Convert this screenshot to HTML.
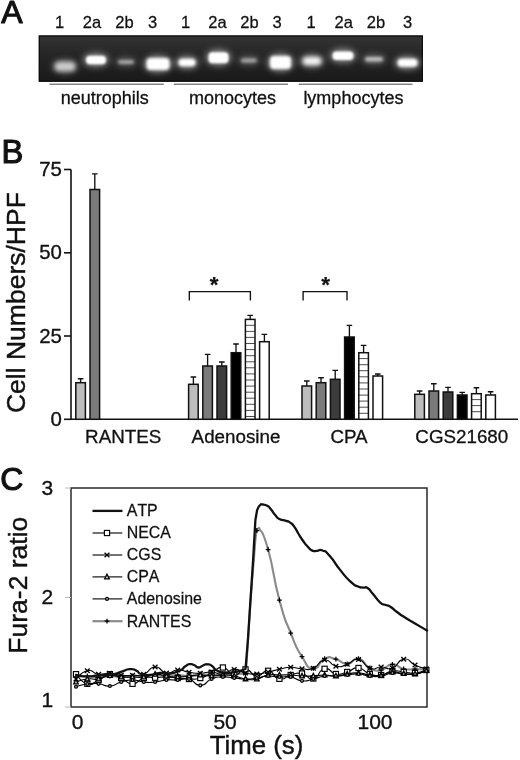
<!DOCTYPE html>
<html><head><meta charset="utf-8"><title>Figure</title>
<style>
html,body{margin:0;padding:0;background:#fff;}
body{width:520px;height:760px;overflow:hidden;font-family:"Liberation Sans",sans-serif;}
svg{display:block;filter:grayscale(1) blur(0.3px);}
svg text{font-family:"Liberation Sans",sans-serif;fill:#111;stroke:#111;stroke-width:0.016em;}
</style></head><body>
<svg width="520" height="760" viewBox="0 0 520 760">
<defs>
<linearGradient id="gelbg" x1="0" y1="0" x2="0" y2="1"><stop offset="0" stop-color="#343434"/><stop offset="0.4" stop-color="#262626"/><stop offset="1" stop-color="#191919"/></linearGradient>
<clipPath id="gelclip"><rect x="38.8" y="35.5" width="384.1" height="46.2"/></clipPath>
<pattern id="stripe" width="10" height="5" patternUnits="userSpaceOnUse"><rect width="10" height="5" fill="#fff"/><rect y="0" width="10" height="1" fill="#222"/></pattern>
<filter id="b12" x="-30%" y="-100%" width="160%" height="300%"><feGaussianBlur stdDeviation="1.2"/></filter>
<filter id="b13" x="-30%" y="-100%" width="160%" height="300%"><feGaussianBlur stdDeviation="1.3"/></filter>
<filter id="b15" x="-30%" y="-100%" width="160%" height="300%"><feGaussianBlur stdDeviation="1.5"/></filter>
<filter id="b18" x="-30%" y="-100%" width="160%" height="300%"><feGaussianBlur stdDeviation="1.8"/></filter>
<filter id="b22" x="-30%" y="-100%" width="160%" height="300%"><feGaussianBlur stdDeviation="2.2"/></filter>
<filter id="b3" x="-50%" y="-100%" width="200%" height="300%"><feGaussianBlur stdDeviation="3"/></filter>
</defs>
<rect width="520" height="760" fill="#fff"/>
<text x="1.2" y="23.3" font-size="32" style="stroke-width:1.1px;stroke-linejoin:round">A</text>
<rect x="38.8" y="35.5" width="384.09999999999997" height="46.2" fill="url(#gelbg)"/>
<rect x="39.3" y="36.0" width="383.09999999999997" height="45.2" fill="none" stroke="#0c0c0c" stroke-width="1.2"/>
<g clip-path="url(#gelclip)">
<ellipse cx="65" cy="66.5" rx="13.0" ry="7.5" fill="#fff" opacity="0.31" filter="url(#b3)"/>
<rect x="55.0" y="62.0" width="20" height="9" rx="4" fill="#fff" opacity="0.68" filter="url(#b22)"/>
<ellipse cx="96" cy="60" rx="13.0" ry="7.25" fill="#fff" opacity="0.45" filter="url(#b3)"/>
<rect x="86.0" y="55.75" width="20" height="8.5" rx="4" fill="#fff" opacity="1.00" filter="url(#b13)"/>
<ellipse cx="126" cy="62" rx="11.0" ry="5.0" fill="#fff" opacity="0.23" filter="url(#b3)"/>
<rect x="118.0" y="60.0" width="16" height="4" rx="2.0" fill="#fff" opacity="0.50" filter="url(#b15)"/>
<ellipse cx="158" cy="64" rx="14.5" ry="9.0" fill="#fff" opacity="0.45" filter="url(#b3)"/>
<rect x="146.5" y="58.0" width="23" height="12" rx="4" fill="#fff" opacity="1.00" filter="url(#b15)"/>
<ellipse cx="187" cy="62.5" rx="11.5" ry="6.75" fill="#fff" opacity="0.45" filter="url(#b3)"/>
<rect x="178.5" y="58.75" width="17" height="7.5" rx="3.75" fill="#fff" opacity="1.00" filter="url(#b15)"/>
<ellipse cx="218.5" cy="57.8" rx="13.0" ry="8.5" fill="#fff" opacity="0.45" filter="url(#b3)"/>
<rect x="208.5" y="52.3" width="20" height="11" rx="4" fill="#fff" opacity="1.00" filter="url(#b13)"/>
<ellipse cx="248.8" cy="60.5" rx="11.0" ry="5.0" fill="#fff" opacity="0.23" filter="url(#b3)"/>
<rect x="240.8" y="58.5" width="16" height="4" rx="2.0" fill="#fff" opacity="0.50" filter="url(#b15)"/>
<ellipse cx="280.5" cy="62.5" rx="13.5" ry="9.5" fill="#fff" opacity="0.45" filter="url(#b3)"/>
<rect x="270.0" y="56.0" width="21" height="13" rx="4" fill="#fff" opacity="1.00" filter="url(#b15)"/>
<ellipse cx="312" cy="61" rx="12.0" ry="6.75" fill="#fff" opacity="0.43" filter="url(#b3)"/>
<rect x="303.0" y="57.25" width="18" height="7.5" rx="3.75" fill="#fff" opacity="0.95" filter="url(#b22)"/>
<ellipse cx="343" cy="55.8" rx="13.5" ry="7.25" fill="#fff" opacity="0.45" filter="url(#b3)"/>
<rect x="332.5" y="51.55" width="21" height="8.5" rx="4" fill="#fff" opacity="1.00" filter="url(#b13)"/>
<ellipse cx="374" cy="59.3" rx="12.0" ry="5.25" fill="#fff" opacity="0.28" filter="url(#b3)"/>
<rect x="365.0" y="57.05" width="18" height="4.5" rx="2.25" fill="#fff" opacity="0.62" filter="url(#b15)"/>
<ellipse cx="407.5" cy="62.8" rx="13.0" ry="7.0" fill="#fff" opacity="0.45" filter="url(#b3)"/>
<rect x="397.5" y="58.8" width="20" height="8" rx="4.0" fill="#fff" opacity="1.00" filter="url(#b18)"/>
</g>
<text x="59.5" y="27.8" font-size="16.5" text-anchor="middle">1</text>
<text x="92" y="27.8" font-size="16.5" text-anchor="middle">2a</text>
<text x="124.5" y="27.8" font-size="16.5" text-anchor="middle">2b</text>
<text x="152.5" y="27.8" font-size="16.5" text-anchor="middle">3</text>
<text x="185.5" y="27.8" font-size="16.5" text-anchor="middle">1</text>
<text x="217.5" y="27.8" font-size="16.5" text-anchor="middle">2a</text>
<text x="249.5" y="27.8" font-size="16.5" text-anchor="middle">2b</text>
<text x="277" y="27.8" font-size="16.5" text-anchor="middle">3</text>
<text x="311" y="27.8" font-size="16.5" text-anchor="middle">1</text>
<text x="343.7" y="27.8" font-size="16.5" text-anchor="middle">2a</text>
<text x="376" y="27.8" font-size="16.5" text-anchor="middle">2b</text>
<text x="407.5" y="27.8" font-size="16.5" text-anchor="middle">3</text>
<line x1="49.5" y1="84.2" x2="163.8" y2="84.2" stroke="#333" stroke-width="0.9"/>
<line x1="173.8" y1="84.2" x2="288" y2="84.2" stroke="#333" stroke-width="0.9"/>
<line x1="298.8" y1="84.2" x2="412.5" y2="84.2" stroke="#333" stroke-width="0.9"/>
<text x="104.75" y="104.3" font-size="18" text-anchor="middle">neutrophils</text>
<text x="232.5" y="104.3" font-size="18" text-anchor="middle">monocytes</text>
<text x="353.4" y="104.3" font-size="18" text-anchor="middle">lymphocytes</text>
<text x="1.6" y="163.1" font-size="32.6" style="stroke-width:1.1px;stroke-linejoin:round">B</text>
<path d="M71 169.5 V419.3 H518" fill="none" stroke="#111" stroke-width="1.6"/>
<line x1="64" y1="419.3" x2="71" y2="419.3" stroke="#111" stroke-width="1.6"/>
<text x="61.9" y="425.9" font-size="20.4" text-anchor="end">0</text>
<line x1="64" y1="336.0" x2="71" y2="336.0" stroke="#111" stroke-width="1.6"/>
<text x="61.9" y="342.6" font-size="20.4" text-anchor="end">25</text>
<line x1="64" y1="252.8" x2="71" y2="252.8" stroke="#111" stroke-width="1.6"/>
<text x="61.9" y="259.4" font-size="20.4" text-anchor="end">50</text>
<line x1="64" y1="169.5" x2="71" y2="169.5" stroke="#111" stroke-width="1.6"/>
<text x="61.9" y="176.1" font-size="20.4" text-anchor="end">75</text>
<text transform="translate(24.7,302.6) rotate(-90)" font-size="26.5" text-anchor="middle">Cell Numbers/HPF</text>
<rect x="75.8" y="382.7" width="9.6" height="36.6" fill="#bdbdbd" stroke="#111" stroke-width="1.5"/>
<path d="M80.6 382.7 V378.7 M77.8 378.7 H83.4" stroke="#111" stroke-width="1.35" fill="none"/>
<rect x="90.0" y="189.5" width="9.6" height="229.8" fill="#7a7a7a" stroke="#111" stroke-width="1.5"/>
<path d="M94.8 189.5 V173.8 M92.0 173.8 H97.6" stroke="#111" stroke-width="1.35" fill="none"/>
<rect x="188.6" y="384.3" width="9.6" height="35.0" fill="#bdbdbd" stroke="#111" stroke-width="1.5"/>
<path d="M193.4 384.3 V377.0 M190.6 377.0 H196.2" stroke="#111" stroke-width="1.35" fill="none"/>
<rect x="202.8" y="366.0" width="9.6" height="53.3" fill="#7a7a7a" stroke="#111" stroke-width="1.5"/>
<path d="M207.6 366.0 V354.4 M204.8 354.4 H210.4" stroke="#111" stroke-width="1.35" fill="none"/>
<rect x="217.0" y="366.0" width="9.6" height="53.3" fill="#3c3c3c" stroke="#111" stroke-width="1.5"/>
<path d="M221.8 366.0 V362.0 M219.0 362.0 H224.6" stroke="#111" stroke-width="1.35" fill="none"/>
<rect x="231.2" y="352.7" width="9.6" height="66.6" fill="#000" stroke="#111" stroke-width="1.5"/>
<path d="M236.0 352.7 V344.0 M233.2 344.0 H238.8" stroke="#111" stroke-width="1.35" fill="none"/>
<rect x="245.4" y="319.4" width="9.6" height="99.9" fill="#fff" stroke="none"/>
<line x1="245.4" y1="325.3" x2="255.0" y2="325.3" stroke="#3a3a3a" stroke-width="0.9"/>
<line x1="245.4" y1="331.4" x2="255.0" y2="331.4" stroke="#3a3a3a" stroke-width="0.9"/>
<line x1="245.4" y1="337.4" x2="255.0" y2="337.4" stroke="#3a3a3a" stroke-width="0.9"/>
<line x1="245.4" y1="343.5" x2="255.0" y2="343.5" stroke="#3a3a3a" stroke-width="0.9"/>
<line x1="245.4" y1="349.6" x2="255.0" y2="349.6" stroke="#3a3a3a" stroke-width="0.9"/>
<line x1="245.4" y1="355.7" x2="255.0" y2="355.7" stroke="#3a3a3a" stroke-width="0.9"/>
<line x1="245.4" y1="361.8" x2="255.0" y2="361.8" stroke="#3a3a3a" stroke-width="0.9"/>
<line x1="245.4" y1="367.8" x2="255.0" y2="367.8" stroke="#3a3a3a" stroke-width="0.9"/>
<line x1="245.4" y1="373.9" x2="255.0" y2="373.9" stroke="#3a3a3a" stroke-width="0.9"/>
<line x1="245.4" y1="380.0" x2="255.0" y2="380.0" stroke="#3a3a3a" stroke-width="0.9"/>
<line x1="245.4" y1="386.1" x2="255.0" y2="386.1" stroke="#3a3a3a" stroke-width="0.9"/>
<line x1="245.4" y1="392.2" x2="255.0" y2="392.2" stroke="#3a3a3a" stroke-width="0.9"/>
<line x1="245.4" y1="398.2" x2="255.0" y2="398.2" stroke="#3a3a3a" stroke-width="0.9"/>
<line x1="245.4" y1="404.3" x2="255.0" y2="404.3" stroke="#3a3a3a" stroke-width="0.9"/>
<line x1="245.4" y1="410.4" x2="255.0" y2="410.4" stroke="#3a3a3a" stroke-width="0.9"/>
<line x1="245.4" y1="416.5" x2="255.0" y2="416.5" stroke="#3a3a3a" stroke-width="0.9"/>
<rect x="245.4" y="319.4" width="9.6" height="99.9" fill="none" stroke="#111" stroke-width="1.5"/>
<path d="M250.2 319.4 V315.4 M247.4 315.4 H253.0" stroke="#111" stroke-width="1.35" fill="none"/>
<rect x="259.6" y="341.7" width="9.6" height="77.6" fill="#fff" stroke="#111" stroke-width="1.5"/>
<path d="M264.4 341.7 V334.4 M261.6 334.4 H267.2" stroke="#111" stroke-width="1.35" fill="none"/>
<rect x="302.0" y="386.0" width="9.6" height="33.3" fill="#bdbdbd" stroke="#111" stroke-width="1.5"/>
<path d="M306.8 386.0 V381.0 M304.0 381.0 H309.6" stroke="#111" stroke-width="1.35" fill="none"/>
<rect x="316.2" y="382.7" width="9.6" height="36.6" fill="#7a7a7a" stroke="#111" stroke-width="1.5"/>
<path d="M321.0 382.7 V377.7 M318.2 377.7 H323.8" stroke="#111" stroke-width="1.35" fill="none"/>
<rect x="330.4" y="379.3" width="9.6" height="40.0" fill="#3c3c3c" stroke="#111" stroke-width="1.5"/>
<path d="M335.2 379.3 V370.3 M332.4 370.3 H338.0" stroke="#111" stroke-width="1.35" fill="none"/>
<rect x="344.6" y="337.0" width="9.6" height="82.3" fill="#000" stroke="#111" stroke-width="1.5"/>
<path d="M349.4 337.0 V325.4 M346.6 325.4 H352.2" stroke="#111" stroke-width="1.35" fill="none"/>
<rect x="358.8" y="352.7" width="9.6" height="66.6" fill="#fff" stroke="none"/>
<line x1="358.8" y1="358.6" x2="368.4" y2="358.6" stroke="#3a3a3a" stroke-width="0.9"/>
<line x1="358.8" y1="364.7" x2="368.4" y2="364.7" stroke="#3a3a3a" stroke-width="0.9"/>
<line x1="358.8" y1="370.7" x2="368.4" y2="370.7" stroke="#3a3a3a" stroke-width="0.9"/>
<line x1="358.8" y1="376.8" x2="368.4" y2="376.8" stroke="#3a3a3a" stroke-width="0.9"/>
<line x1="358.8" y1="382.9" x2="368.4" y2="382.9" stroke="#3a3a3a" stroke-width="0.9"/>
<line x1="358.8" y1="389.0" x2="368.4" y2="389.0" stroke="#3a3a3a" stroke-width="0.9"/>
<line x1="358.8" y1="395.1" x2="368.4" y2="395.1" stroke="#3a3a3a" stroke-width="0.9"/>
<line x1="358.8" y1="401.1" x2="368.4" y2="401.1" stroke="#3a3a3a" stroke-width="0.9"/>
<line x1="358.8" y1="407.2" x2="368.4" y2="407.2" stroke="#3a3a3a" stroke-width="0.9"/>
<line x1="358.8" y1="413.3" x2="368.4" y2="413.3" stroke="#3a3a3a" stroke-width="0.9"/>
<rect x="358.8" y="352.7" width="9.6" height="66.6" fill="none" stroke="#111" stroke-width="1.5"/>
<path d="M363.6 352.7 V345.4 M360.8 345.4 H366.4" stroke="#111" stroke-width="1.35" fill="none"/>
<rect x="373.0" y="376.0" width="9.6" height="43.3" fill="#fff" stroke="#111" stroke-width="1.5"/>
<path d="M377.8 376.0 V374.0 M375.0 374.0 H380.6" stroke="#111" stroke-width="1.35" fill="none"/>
<rect x="414.8" y="394.3" width="9.6" height="25.0" fill="#bdbdbd" stroke="#111" stroke-width="1.5"/>
<path d="M419.6 394.3 V391.0 M416.8 391.0 H422.4" stroke="#111" stroke-width="1.35" fill="none"/>
<rect x="429.0" y="391.0" width="9.6" height="28.3" fill="#7a7a7a" stroke="#111" stroke-width="1.5"/>
<path d="M433.8 391.0 V383.7 M431.0 383.7 H436.6" stroke="#111" stroke-width="1.35" fill="none"/>
<rect x="443.2" y="392.0" width="9.6" height="27.3" fill="#3c3c3c" stroke="#111" stroke-width="1.5"/>
<path d="M448.0 392.0 V387.3 M445.2 387.3 H450.8" stroke="#111" stroke-width="1.35" fill="none"/>
<rect x="457.4" y="395.0" width="9.6" height="24.3" fill="#000" stroke="#111" stroke-width="1.5"/>
<path d="M462.2 395.0 V392.3 M459.4 392.3 H465.0" stroke="#111" stroke-width="1.35" fill="none"/>
<rect x="471.6" y="393.7" width="9.6" height="25.6" fill="#fff" stroke="none"/>
<line x1="471.6" y1="399.6" x2="481.2" y2="399.6" stroke="#3a3a3a" stroke-width="0.9"/>
<line x1="471.6" y1="405.6" x2="481.2" y2="405.6" stroke="#3a3a3a" stroke-width="0.9"/>
<line x1="471.6" y1="411.7" x2="481.2" y2="411.7" stroke="#3a3a3a" stroke-width="0.9"/>
<rect x="471.6" y="393.7" width="9.6" height="25.6" fill="none" stroke="#111" stroke-width="1.5"/>
<path d="M476.4 393.7 V387.7 M473.6 387.7 H479.2" stroke="#111" stroke-width="1.35" fill="none"/>
<rect x="485.8" y="395.0" width="9.6" height="24.3" fill="#fff" stroke="#111" stroke-width="1.5"/>
<path d="M490.6 395.0 V391.7 M487.8 391.7 H493.4" stroke="#111" stroke-width="1.35" fill="none"/>
<text x="123.2" y="443.3" font-size="18.8" text-anchor="middle">RANTES</text>
<text x="236" y="443.3" font-size="18.8" text-anchor="middle">Adenosine</text>
<text x="349" y="443.3" font-size="18.8" text-anchor="middle">CPA</text>
<text x="461.8" y="443.3" font-size="18.8" text-anchor="middle">CGS21680</text>
<path d="M189.3 300.5 V291.6 H250.4 V300.5" fill="none" stroke="#111" stroke-width="1.35"/>
<text x="214.2" y="292.3" font-size="22.5" font-weight="bold" style="stroke-width:0.2px" text-anchor="middle">*</text>
<path d="M303.1 300.5 V291.6 H347 V300.5" fill="none" stroke="#111" stroke-width="1.35"/>
<text x="325.6" y="292.3" font-size="22.5" font-weight="bold" style="stroke-width:0.2px" text-anchor="middle">*</text>
<text x="0.3" y="490" font-size="32" style="stroke-width:1.1px;stroke-linejoin:round">C</text>
<rect x="71" y="488" width="356" height="219" fill="none" stroke="#2a2a2a" stroke-width="1.5"/>
<line x1="65" y1="707.0" x2="71" y2="707.0" stroke="#bbb" stroke-width="1"/>
<text x="53.2" y="707.4" font-size="21" text-anchor="end">1</text>
<line x1="65" y1="597.5" x2="71" y2="597.5" stroke="#bbb" stroke-width="1"/>
<text x="53.2" y="604.3" font-size="21" text-anchor="end">2</text>
<line x1="65" y1="488.0" x2="71" y2="488.0" stroke="#bbb" stroke-width="1"/>
<text x="53.2" y="494.9" font-size="21" text-anchor="end">3</text>
<text x="77.7" y="728.5" font-size="21" text-anchor="middle">0</text>
<text x="225.1" y="728.5" font-size="21" text-anchor="middle">50</text>
<text x="375" y="728.5" font-size="21" text-anchor="middle">100</text>
<text x="256.5" y="754" font-size="25.8" text-anchor="middle">Time (s)</text>
<text transform="translate(27.1,585.2) rotate(-90)" font-size="26.5" text-anchor="middle">Fura-2 ratio</text>
<path d="M76.0 677.0 C79.8 676.7 79.8 675.8 87.3 676.0 C94.8 676.2 91.1 677.5 98.6 677.5 C106.1 677.5 102.4 676.2 109.9 676.0 C117.4 675.8 113.7 676.8 121.2 677.0 C128.7 677.2 125.0 676.8 132.5 676.5 C140.0 676.2 136.3 676.5 143.8 676.0 C151.3 675.5 147.6 675.0 155.1 675.0 C162.6 675.0 158.9 676.0 166.4 676.0 C173.9 676.0 170.2 675.0 177.7 675.0 C185.2 675.0 181.5 676.0 189.0 676.0 C196.5 676.0 192.8 675.5 200.3 675.0 C207.8 674.5 204.1 674.5 211.6 674.5 C219.1 674.5 215.4 675.2 222.9 675.0 C230.4 674.8 226.7 674.5 234.2 674.0 C241.7 673.5 241.7 673.7 245.5 673.5 L246.2 669.5 L250.5 600 L254.8 548 C255.6 535 257 528 259 527.8  C262.0 535.0 261.3 525.4 268.1 549.5 C274.9 573.6 271.9 572.2 279.4 600.0 C286.9 627.8 283.2 614.1 290.7 633.0 C298.2 651.9 294.5 644.9 302.0 656.7 C309.5 668.5 305.8 667.6 313.3 668.3 C320.8 669.0 317.1 661.7 324.6 658.7 C332.1 655.7 328.4 657.5 335.9 659.2 C343.4 660.9 339.7 664.0 347.2 663.8 C354.7 663.6 351.0 657.3 358.5 658.7 C366.0 660.1 362.3 664.2 369.8 668.0 C377.3 671.8 373.6 671.2 381.1 670.0 C388.6 668.8 384.9 664.7 392.4 664.4 C399.9 664.1 396.2 667.5 403.7 669.0 C411.2 670.5 407.5 668.8 415.0 669.0 C422.5 669.2 422.5 669.3 426.3 669.5" fill="none" stroke="#8a8a8a" stroke-width="2.1" stroke-linejoin="round"/>
<path d="M73.6 677.0 H78.4 M76.0 674.6 V679.4" stroke="#000" stroke-width="1.25"/>
<path d="M84.9 676.0 H89.7 M87.3 673.6 V678.4" stroke="#000" stroke-width="1.25"/>
<path d="M96.2 677.5 H101.0 M98.6 675.1 V679.9" stroke="#000" stroke-width="1.25"/>
<path d="M107.5 676.0 H112.3 M109.9 673.6 V678.4" stroke="#000" stroke-width="1.25"/>
<path d="M118.8 677.0 H123.6 M121.2 674.6 V679.4" stroke="#000" stroke-width="1.25"/>
<path d="M130.1 676.5 H134.9 M132.5 674.1 V678.9" stroke="#000" stroke-width="1.25"/>
<path d="M141.4 676.0 H146.2 M143.8 673.6 V678.4" stroke="#000" stroke-width="1.25"/>
<path d="M152.7 675.0 H157.5 M155.1 672.6 V677.4" stroke="#000" stroke-width="1.25"/>
<path d="M164.0 676.0 H168.8 M166.4 673.6 V678.4" stroke="#000" stroke-width="1.25"/>
<path d="M175.3 675.0 H180.1 M177.7 672.6 V677.4" stroke="#000" stroke-width="1.25"/>
<path d="M186.6 676.0 H191.4 M189.0 673.6 V678.4" stroke="#000" stroke-width="1.25"/>
<path d="M197.9 675.0 H202.7 M200.3 672.6 V677.4" stroke="#000" stroke-width="1.25"/>
<path d="M209.2 674.5 H214.0 M211.6 672.1 V676.9" stroke="#000" stroke-width="1.25"/>
<path d="M220.5 675.0 H225.3 M222.9 672.6 V677.4" stroke="#000" stroke-width="1.25"/>
<path d="M231.8 674.0 H236.6 M234.2 671.6 V676.4" stroke="#000" stroke-width="1.25"/>
<path d="M243.1 673.5 H247.9 M245.5 671.1 V675.9" stroke="#000" stroke-width="1.25"/>
<path d="M254.4 530.5 H259.2 M256.8 528.1 V532.9" stroke="#000" stroke-width="1.25"/>
<path d="M265.7 549.5 H270.5 M268.1 547.1 V551.9" stroke="#000" stroke-width="1.25"/>
<path d="M277.0 600.0 H281.8 M279.4 597.6 V602.4" stroke="#000" stroke-width="1.25"/>
<path d="M288.3 633.0 H293.1 M290.7 630.6 V635.4" stroke="#000" stroke-width="1.25"/>
<path d="M299.6 656.7 H304.4 M302.0 654.3 V659.1" stroke="#000" stroke-width="1.25"/>
<path d="M310.9 668.3 H315.7 M313.3 665.9 V670.7" stroke="#000" stroke-width="1.25"/>
<path d="M322.2 658.7 H327.0 M324.6 656.3 V661.1" stroke="#000" stroke-width="1.25"/>
<path d="M333.5 659.2 H338.3 M335.9 656.8 V661.6" stroke="#000" stroke-width="1.25"/>
<path d="M344.8 663.8 H349.6 M347.2 661.4 V666.2" stroke="#000" stroke-width="1.25"/>
<path d="M356.1 658.7 H360.9 M358.5 656.3 V661.1" stroke="#000" stroke-width="1.25"/>
<path d="M367.4 668.0 H372.2 M369.8 665.6 V670.4" stroke="#000" stroke-width="1.25"/>
<path d="M378.7 670.0 H383.5 M381.1 667.6 V672.4" stroke="#000" stroke-width="1.25"/>
<path d="M390.0 664.4 H394.8 M392.4 662.0 V666.8" stroke="#000" stroke-width="1.25"/>
<path d="M401.3 669.0 H406.1 M403.7 666.6 V671.4" stroke="#000" stroke-width="1.25"/>
<path d="M412.6 669.0 H417.4 M415.0 666.6 V671.4" stroke="#000" stroke-width="1.25"/>
<path d="M423.9 669.5 H428.7 M426.3 667.1 V671.9" stroke="#000" stroke-width="1.25"/>
<path d="M76.0 674.2 C79.8 677.4 79.8 681.9 87.3 683.8 C94.8 685.7 91.1 683.2 98.6 680.0 C106.1 676.8 102.4 674.9 109.9 674.2 C117.4 673.5 113.7 674.8 121.2 678.0 C128.7 681.2 125.0 683.8 132.5 683.8 C140.0 683.8 136.3 680.0 143.8 678.0 C151.3 676.0 147.6 678.0 155.1 677.7 C162.6 677.4 158.9 676.9 166.4 677.0 C173.9 677.1 170.2 677.3 177.7 678.0 C185.2 678.7 181.5 679.0 189.0 679.0 C196.5 679.0 192.8 680.0 200.3 678.0 C207.8 676.0 204.1 676.5 211.6 673.0 C219.1 669.5 215.4 666.8 222.9 667.5 C230.4 668.2 226.7 674.4 234.2 675.0 C241.7 675.6 238.0 669.1 245.5 669.4 C253.0 669.7 249.3 675.5 256.8 676.0 C264.3 676.5 260.6 669.9 268.1 670.8 C275.6 671.7 271.9 677.4 279.4 678.8 C286.9 680.2 283.2 676.8 290.7 675.0 C298.2 673.2 294.5 672.3 302.0 673.5 C309.5 674.7 305.8 680.1 313.3 678.5 C320.8 676.9 317.1 670.3 324.6 668.8 C332.1 667.3 328.4 672.9 335.9 674.0 C343.4 675.1 339.7 674.0 347.2 672.0 C354.7 670.0 351.0 667.3 358.5 668.0 C366.0 668.7 362.3 671.7 369.8 674.0 C377.3 676.3 373.6 676.0 381.1 675.0 C388.6 674.0 384.9 672.0 392.4 671.0 C399.9 670.0 396.2 671.3 403.7 672.0 C411.2 672.7 407.5 673.7 415.0 673.0 C422.5 672.3 422.5 671.0 426.3 670.0" fill="none" stroke="#000" stroke-width="1.15" stroke-linejoin="round"/>
<rect x="73.4" y="671.6" width="5.2" height="5.2" fill="#fff" stroke="#000" stroke-width="1.15"/>
<rect x="84.7" y="681.2" width="5.2" height="5.2" fill="#fff" stroke="#000" stroke-width="1.15"/>
<rect x="96.0" y="677.4" width="5.2" height="5.2" fill="#fff" stroke="#000" stroke-width="1.15"/>
<rect x="107.3" y="671.6" width="5.2" height="5.2" fill="#fff" stroke="#000" stroke-width="1.15"/>
<rect x="118.6" y="675.4" width="5.2" height="5.2" fill="#fff" stroke="#000" stroke-width="1.15"/>
<rect x="129.9" y="681.2" width="5.2" height="5.2" fill="#fff" stroke="#000" stroke-width="1.15"/>
<rect x="141.2" y="675.4" width="5.2" height="5.2" fill="#fff" stroke="#000" stroke-width="1.15"/>
<rect x="152.5" y="675.1" width="5.2" height="5.2" fill="#fff" stroke="#000" stroke-width="1.15"/>
<rect x="163.8" y="674.4" width="5.2" height="5.2" fill="#fff" stroke="#000" stroke-width="1.15"/>
<rect x="175.1" y="675.4" width="5.2" height="5.2" fill="#fff" stroke="#000" stroke-width="1.15"/>
<rect x="186.4" y="676.4" width="5.2" height="5.2" fill="#fff" stroke="#000" stroke-width="1.15"/>
<rect x="197.7" y="675.4" width="5.2" height="5.2" fill="#fff" stroke="#000" stroke-width="1.15"/>
<rect x="209.0" y="670.4" width="5.2" height="5.2" fill="#fff" stroke="#000" stroke-width="1.15"/>
<rect x="220.3" y="664.9" width="5.2" height="5.2" fill="#fff" stroke="#000" stroke-width="1.15"/>
<rect x="231.6" y="672.4" width="5.2" height="5.2" fill="#fff" stroke="#000" stroke-width="1.15"/>
<rect x="242.9" y="666.8" width="5.2" height="5.2" fill="#fff" stroke="#000" stroke-width="1.15"/>
<rect x="254.2" y="673.4" width="5.2" height="5.2" fill="#fff" stroke="#000" stroke-width="1.15"/>
<rect x="265.5" y="668.2" width="5.2" height="5.2" fill="#fff" stroke="#000" stroke-width="1.15"/>
<rect x="276.8" y="676.2" width="5.2" height="5.2" fill="#fff" stroke="#000" stroke-width="1.15"/>
<rect x="288.1" y="672.4" width="5.2" height="5.2" fill="#fff" stroke="#000" stroke-width="1.15"/>
<rect x="299.4" y="670.9" width="5.2" height="5.2" fill="#fff" stroke="#000" stroke-width="1.15"/>
<rect x="310.7" y="675.9" width="5.2" height="5.2" fill="#fff" stroke="#000" stroke-width="1.15"/>
<rect x="322.0" y="666.2" width="5.2" height="5.2" fill="#fff" stroke="#000" stroke-width="1.15"/>
<rect x="333.3" y="671.4" width="5.2" height="5.2" fill="#fff" stroke="#000" stroke-width="1.15"/>
<rect x="344.6" y="669.4" width="5.2" height="5.2" fill="#fff" stroke="#000" stroke-width="1.15"/>
<rect x="355.9" y="665.4" width="5.2" height="5.2" fill="#fff" stroke="#000" stroke-width="1.15"/>
<rect x="367.2" y="671.4" width="5.2" height="5.2" fill="#fff" stroke="#000" stroke-width="1.15"/>
<rect x="378.5" y="672.4" width="5.2" height="5.2" fill="#fff" stroke="#000" stroke-width="1.15"/>
<rect x="389.8" y="668.4" width="5.2" height="5.2" fill="#fff" stroke="#000" stroke-width="1.15"/>
<rect x="401.1" y="669.4" width="5.2" height="5.2" fill="#fff" stroke="#000" stroke-width="1.15"/>
<rect x="412.4" y="670.4" width="5.2" height="5.2" fill="#fff" stroke="#000" stroke-width="1.15"/>
<rect x="423.7" y="667.4" width="5.2" height="5.2" fill="#fff" stroke="#000" stroke-width="1.15"/>
<path d="M76.0 679.0 C79.8 676.3 79.8 672.4 87.3 670.8 C94.8 669.2 91.1 673.4 98.6 674.2 C106.1 675.0 102.4 673.0 109.9 673.3 C117.4 673.6 113.7 674.6 121.2 675.2 C128.7 675.8 125.0 675.5 132.5 675.2 C140.0 674.9 136.3 676.9 143.8 674.2 C151.3 671.5 147.6 667.4 155.1 667.0 C162.6 666.6 158.9 672.0 166.4 673.0 C173.9 674.0 170.2 670.2 177.7 670.0 C185.2 669.8 181.5 671.2 189.0 672.3 C196.5 673.4 192.8 673.4 200.3 673.3 C207.8 673.2 204.1 671.8 211.6 672.0 C219.1 672.2 215.4 674.9 222.9 674.0 C230.4 673.1 226.7 669.7 234.2 669.4 C241.7 669.1 238.0 671.5 245.5 673.0 C253.0 674.5 249.3 674.3 256.8 674.0 C264.3 673.7 260.6 673.6 268.1 672.0 C275.6 670.4 271.9 670.8 279.4 669.2 C286.9 667.6 283.2 667.4 290.7 667.3 C298.2 667.2 294.5 668.5 302.0 668.8 C309.5 669.1 305.8 671.2 313.3 668.3 C320.8 665.4 317.1 660.7 324.6 660.0 C332.1 659.3 328.4 664.8 335.9 666.3 C343.4 667.8 339.7 666.7 347.2 664.4 C354.7 662.1 351.0 658.2 358.5 659.5 C366.0 660.8 362.3 665.8 369.8 668.3 C377.3 670.8 373.6 667.1 381.1 667.0 C388.6 666.9 384.9 670.6 392.4 668.0 C399.9 665.4 396.2 660.2 403.7 659.2 C411.2 658.2 407.5 661.7 415.0 665.0 C422.5 668.3 422.5 667.7 426.3 669.0" fill="none" stroke="#000" stroke-width="1.15" stroke-linejoin="round"/>
<path d="M73.6 676.8 L78.4 681.2 M73.6 681.2 L78.4 676.8" stroke="#000" stroke-width="1.3"/>
<path d="M84.9 668.6 L89.7 673.0 M84.9 673.0 L89.7 668.6" stroke="#000" stroke-width="1.3"/>
<path d="M96.2 672.0 L101.0 676.4 M96.2 676.4 L101.0 672.0" stroke="#000" stroke-width="1.3"/>
<path d="M107.5 671.1 L112.3 675.5 M107.5 675.5 L112.3 671.1" stroke="#000" stroke-width="1.3"/>
<path d="M118.8 673.0 L123.6 677.4 M118.8 677.4 L123.6 673.0" stroke="#000" stroke-width="1.3"/>
<path d="M130.1 673.0 L134.9 677.4 M130.1 677.4 L134.9 673.0" stroke="#000" stroke-width="1.3"/>
<path d="M141.4 672.0 L146.2 676.4 M141.4 676.4 L146.2 672.0" stroke="#000" stroke-width="1.3"/>
<path d="M152.7 664.8 L157.5 669.2 M152.7 669.2 L157.5 664.8" stroke="#000" stroke-width="1.3"/>
<path d="M164.0 670.8 L168.8 675.2 M164.0 675.2 L168.8 670.8" stroke="#000" stroke-width="1.3"/>
<path d="M175.3 667.8 L180.1 672.2 M175.3 672.2 L180.1 667.8" stroke="#000" stroke-width="1.3"/>
<path d="M186.6 670.1 L191.4 674.5 M186.6 674.5 L191.4 670.1" stroke="#000" stroke-width="1.3"/>
<path d="M197.9 671.1 L202.7 675.5 M197.9 675.5 L202.7 671.1" stroke="#000" stroke-width="1.3"/>
<path d="M209.2 669.8 L214.0 674.2 M209.2 674.2 L214.0 669.8" stroke="#000" stroke-width="1.3"/>
<path d="M220.5 671.8 L225.3 676.2 M220.5 676.2 L225.3 671.8" stroke="#000" stroke-width="1.3"/>
<path d="M231.8 667.2 L236.6 671.6 M231.8 671.6 L236.6 667.2" stroke="#000" stroke-width="1.3"/>
<path d="M243.1 670.8 L247.9 675.2 M243.1 675.2 L247.9 670.8" stroke="#000" stroke-width="1.3"/>
<path d="M254.4 671.8 L259.2 676.2 M254.4 676.2 L259.2 671.8" stroke="#000" stroke-width="1.3"/>
<path d="M265.7 669.8 L270.5 674.2 M265.7 674.2 L270.5 669.8" stroke="#000" stroke-width="1.3"/>
<path d="M277.0 667.0 L281.8 671.4 M277.0 671.4 L281.8 667.0" stroke="#000" stroke-width="1.3"/>
<path d="M288.3 665.1 L293.1 669.5 M288.3 669.5 L293.1 665.1" stroke="#000" stroke-width="1.3"/>
<path d="M299.6 666.6 L304.4 671.0 M299.6 671.0 L304.4 666.6" stroke="#000" stroke-width="1.3"/>
<path d="M310.9 666.1 L315.7 670.5 M310.9 670.5 L315.7 666.1" stroke="#000" stroke-width="1.3"/>
<path d="M322.2 657.8 L327.0 662.2 M322.2 662.2 L327.0 657.8" stroke="#000" stroke-width="1.3"/>
<path d="M333.5 664.1 L338.3 668.5 M333.5 668.5 L338.3 664.1" stroke="#000" stroke-width="1.3"/>
<path d="M344.8 662.2 L349.6 666.6 M344.8 666.6 L349.6 662.2" stroke="#000" stroke-width="1.3"/>
<path d="M356.1 657.3 L360.9 661.7 M356.1 661.7 L360.9 657.3" stroke="#000" stroke-width="1.3"/>
<path d="M367.4 666.1 L372.2 670.5 M367.4 670.5 L372.2 666.1" stroke="#000" stroke-width="1.3"/>
<path d="M378.7 664.8 L383.5 669.2 M378.7 669.2 L383.5 664.8" stroke="#000" stroke-width="1.3"/>
<path d="M390.0 665.8 L394.8 670.2 M390.0 670.2 L394.8 665.8" stroke="#000" stroke-width="1.3"/>
<path d="M401.3 657.0 L406.1 661.4 M401.3 661.4 L406.1 657.0" stroke="#000" stroke-width="1.3"/>
<path d="M412.6 662.8 L417.4 667.2 M412.6 667.2 L417.4 662.8" stroke="#000" stroke-width="1.3"/>
<path d="M423.9 666.8 L428.7 671.2 M423.9 671.2 L428.7 666.8" stroke="#000" stroke-width="1.3"/>
<path d="M76.0 682.0 C79.8 681.0 79.8 680.0 87.3 679.0 C94.8 678.0 91.1 680.2 98.6 679.0 C106.1 677.8 102.4 676.2 109.9 675.5 C117.4 674.8 113.7 676.5 121.2 677.0 C128.7 677.5 125.0 677.0 132.5 677.0 C140.0 677.0 136.3 677.9 143.8 677.0 C151.3 676.1 147.6 674.5 155.1 674.2 C162.6 673.9 158.9 675.1 166.4 676.0 C173.9 676.9 170.2 677.0 177.7 677.0 C185.2 677.0 181.5 676.7 189.0 676.0 C196.5 675.3 192.8 675.0 200.3 675.0 C207.8 675.0 204.1 676.0 211.6 676.0 C219.1 676.0 215.4 675.0 222.9 675.0 C230.4 675.0 226.7 674.7 234.2 676.0 C241.7 677.3 238.0 678.0 245.5 679.0 C253.0 680.0 249.3 680.3 256.8 679.0 C264.3 677.7 260.6 676.3 268.1 675.0 C275.6 673.7 271.9 675.0 279.4 675.0 C286.9 675.0 283.2 674.7 290.7 675.0 C298.2 675.3 294.5 675.7 302.0 676.0 C309.5 676.3 305.8 676.3 313.3 676.0 C320.8 675.7 317.1 675.0 324.6 675.0 C332.1 675.0 328.4 676.3 335.9 676.0 C343.4 675.7 339.7 675.0 347.2 674.0 C354.7 673.0 351.0 672.7 358.5 673.0 C366.0 673.3 362.3 674.3 369.8 675.0 C377.3 675.7 373.6 676.0 381.1 675.0 C388.6 674.0 384.9 672.5 392.4 672.0 C399.9 671.5 396.2 672.8 403.7 673.5 C411.2 674.2 407.5 675.0 415.0 674.0 C422.5 673.0 422.5 671.7 426.3 670.5" fill="none" stroke="#000" stroke-width="1.15" stroke-linejoin="round"/>
<path d="M76.0 679.4 L78.3 683.9 H73.7 Z" fill="#ccc" stroke="#000" stroke-width="1.3" stroke-linejoin="miter"/>
<path d="M87.3 676.4 L89.6 680.9 H85.0 Z" fill="#ccc" stroke="#000" stroke-width="1.3" stroke-linejoin="miter"/>
<path d="M98.6 676.4 L100.9 680.9 H96.3 Z" fill="#ccc" stroke="#000" stroke-width="1.3" stroke-linejoin="miter"/>
<path d="M109.9 672.9 L112.2 677.4 H107.6 Z" fill="#ccc" stroke="#000" stroke-width="1.3" stroke-linejoin="miter"/>
<path d="M121.2 674.4 L123.5 678.9 H118.9 Z" fill="#ccc" stroke="#000" stroke-width="1.3" stroke-linejoin="miter"/>
<path d="M132.5 674.4 L134.8 678.9 H130.2 Z" fill="#ccc" stroke="#000" stroke-width="1.3" stroke-linejoin="miter"/>
<path d="M143.8 674.4 L146.1 678.9 H141.5 Z" fill="#ccc" stroke="#000" stroke-width="1.3" stroke-linejoin="miter"/>
<path d="M155.1 671.6 L157.4 676.1 H152.8 Z" fill="#ccc" stroke="#000" stroke-width="1.3" stroke-linejoin="miter"/>
<path d="M166.4 673.4 L168.7 677.9 H164.1 Z" fill="#ccc" stroke="#000" stroke-width="1.3" stroke-linejoin="miter"/>
<path d="M177.7 674.4 L180.0 678.9 H175.4 Z" fill="#ccc" stroke="#000" stroke-width="1.3" stroke-linejoin="miter"/>
<path d="M189.0 673.4 L191.3 677.9 H186.7 Z" fill="#ccc" stroke="#000" stroke-width="1.3" stroke-linejoin="miter"/>
<path d="M200.3 672.4 L202.6 676.9 H198.0 Z" fill="#ccc" stroke="#000" stroke-width="1.3" stroke-linejoin="miter"/>
<path d="M211.6 673.4 L213.9 677.9 H209.3 Z" fill="#ccc" stroke="#000" stroke-width="1.3" stroke-linejoin="miter"/>
<path d="M222.9 672.4 L225.2 676.9 H220.6 Z" fill="#ccc" stroke="#000" stroke-width="1.3" stroke-linejoin="miter"/>
<path d="M234.2 673.4 L236.5 677.9 H231.9 Z" fill="#ccc" stroke="#000" stroke-width="1.3" stroke-linejoin="miter"/>
<path d="M245.5 676.4 L247.8 680.9 H243.2 Z" fill="#ccc" stroke="#000" stroke-width="1.3" stroke-linejoin="miter"/>
<path d="M256.8 676.4 L259.1 680.9 H254.5 Z" fill="#ccc" stroke="#000" stroke-width="1.3" stroke-linejoin="miter"/>
<path d="M268.1 672.4 L270.4 676.9 H265.8 Z" fill="#ccc" stroke="#000" stroke-width="1.3" stroke-linejoin="miter"/>
<path d="M279.4 672.4 L281.7 676.9 H277.1 Z" fill="#ccc" stroke="#000" stroke-width="1.3" stroke-linejoin="miter"/>
<path d="M290.7 672.4 L293.0 676.9 H288.4 Z" fill="#ccc" stroke="#000" stroke-width="1.3" stroke-linejoin="miter"/>
<path d="M302.0 673.4 L304.3 677.9 H299.7 Z" fill="#ccc" stroke="#000" stroke-width="1.3" stroke-linejoin="miter"/>
<path d="M313.3 673.4 L315.6 677.9 H311.0 Z" fill="#ccc" stroke="#000" stroke-width="1.3" stroke-linejoin="miter"/>
<path d="M324.6 672.4 L326.9 676.9 H322.3 Z" fill="#ccc" stroke="#000" stroke-width="1.3" stroke-linejoin="miter"/>
<path d="M335.9 673.4 L338.2 677.9 H333.6 Z" fill="#ccc" stroke="#000" stroke-width="1.3" stroke-linejoin="miter"/>
<path d="M347.2 671.4 L349.5 675.9 H344.9 Z" fill="#ccc" stroke="#000" stroke-width="1.3" stroke-linejoin="miter"/>
<path d="M358.5 670.4 L360.8 674.9 H356.2 Z" fill="#ccc" stroke="#000" stroke-width="1.3" stroke-linejoin="miter"/>
<path d="M369.8 672.4 L372.1 676.9 H367.5 Z" fill="#ccc" stroke="#000" stroke-width="1.3" stroke-linejoin="miter"/>
<path d="M381.1 672.4 L383.4 676.9 H378.8 Z" fill="#ccc" stroke="#000" stroke-width="1.3" stroke-linejoin="miter"/>
<path d="M392.4 669.4 L394.7 673.9 H390.1 Z" fill="#ccc" stroke="#000" stroke-width="1.3" stroke-linejoin="miter"/>
<path d="M403.7 670.9 L406.0 675.4 H401.4 Z" fill="#ccc" stroke="#000" stroke-width="1.3" stroke-linejoin="miter"/>
<path d="M415.0 671.4 L417.3 675.9 H412.7 Z" fill="#ccc" stroke="#000" stroke-width="1.3" stroke-linejoin="miter"/>
<path d="M426.3 667.9 L428.6 672.4 H424.0 Z" fill="#ccc" stroke="#000" stroke-width="1.3" stroke-linejoin="miter"/>
<path d="M76.0 686.7 C79.8 685.8 79.8 685.0 87.3 684.0 C94.8 683.0 91.1 683.1 98.6 683.8 C106.1 684.5 102.4 686.6 109.9 686.0 C117.4 685.4 113.7 684.0 121.2 682.0 C128.7 680.0 125.0 680.0 132.5 680.0 C140.0 680.0 136.3 681.3 143.8 682.0 C151.3 682.7 147.6 682.7 155.1 682.0 C162.6 681.3 158.9 680.7 166.4 680.0 C173.9 679.3 170.2 680.3 177.7 680.0 C185.2 679.7 181.5 677.2 189.0 679.0 C196.5 680.8 192.8 685.4 200.3 685.4 C207.8 685.4 204.1 681.8 211.6 679.0 C219.1 676.2 215.4 677.3 222.9 677.0 C230.4 676.7 226.7 677.3 234.2 678.0 C241.7 678.7 238.0 679.0 245.5 679.0 C253.0 679.0 249.3 679.0 256.8 678.0 C264.3 677.0 260.6 676.3 268.1 676.0 C275.6 675.7 271.9 676.7 279.4 677.0 C286.9 677.3 283.2 675.7 290.7 677.0 C298.2 678.3 294.5 680.1 302.0 680.8 C309.5 681.5 305.8 680.6 313.3 679.0 C320.8 677.4 317.1 677.0 324.6 676.0 C332.1 675.0 328.4 676.3 335.9 676.0 C343.4 675.7 339.7 675.7 347.2 675.0 C354.7 674.3 351.0 673.7 358.5 674.0 C366.0 674.3 362.3 675.3 369.8 676.0 C377.3 676.7 373.6 677.0 381.1 676.0 C388.6 675.0 384.9 673.7 392.4 673.0 C399.9 672.3 396.2 673.7 403.7 674.0 C411.2 674.3 407.5 675.0 415.0 674.0 C422.5 673.0 422.5 672.0 426.3 671.0" fill="none" stroke="#000" stroke-width="1.15" stroke-linejoin="round"/>
<circle cx="76.0" cy="686.7" r="1.45" fill="#ccc" stroke="#000" stroke-width="1.25"/>
<circle cx="87.3" cy="684.0" r="1.45" fill="#ccc" stroke="#000" stroke-width="1.25"/>
<circle cx="98.6" cy="683.8" r="1.45" fill="#ccc" stroke="#000" stroke-width="1.25"/>
<circle cx="109.9" cy="686.0" r="1.45" fill="#ccc" stroke="#000" stroke-width="1.25"/>
<circle cx="121.2" cy="682.0" r="1.45" fill="#ccc" stroke="#000" stroke-width="1.25"/>
<circle cx="132.5" cy="680.0" r="1.45" fill="#ccc" stroke="#000" stroke-width="1.25"/>
<circle cx="143.8" cy="682.0" r="1.45" fill="#ccc" stroke="#000" stroke-width="1.25"/>
<circle cx="155.1" cy="682.0" r="1.45" fill="#ccc" stroke="#000" stroke-width="1.25"/>
<circle cx="166.4" cy="680.0" r="1.45" fill="#ccc" stroke="#000" stroke-width="1.25"/>
<circle cx="177.7" cy="680.0" r="1.45" fill="#ccc" stroke="#000" stroke-width="1.25"/>
<circle cx="189.0" cy="679.0" r="1.45" fill="#ccc" stroke="#000" stroke-width="1.25"/>
<circle cx="200.3" cy="685.4" r="1.45" fill="#ccc" stroke="#000" stroke-width="1.25"/>
<circle cx="211.6" cy="679.0" r="1.45" fill="#ccc" stroke="#000" stroke-width="1.25"/>
<circle cx="222.9" cy="677.0" r="1.45" fill="#ccc" stroke="#000" stroke-width="1.25"/>
<circle cx="234.2" cy="678.0" r="1.45" fill="#ccc" stroke="#000" stroke-width="1.25"/>
<circle cx="245.5" cy="679.0" r="1.45" fill="#ccc" stroke="#000" stroke-width="1.25"/>
<circle cx="256.8" cy="678.0" r="1.45" fill="#ccc" stroke="#000" stroke-width="1.25"/>
<circle cx="268.1" cy="676.0" r="1.45" fill="#ccc" stroke="#000" stroke-width="1.25"/>
<circle cx="279.4" cy="677.0" r="1.45" fill="#ccc" stroke="#000" stroke-width="1.25"/>
<circle cx="290.7" cy="677.0" r="1.45" fill="#ccc" stroke="#000" stroke-width="1.25"/>
<circle cx="302.0" cy="680.8" r="1.45" fill="#ccc" stroke="#000" stroke-width="1.25"/>
<circle cx="313.3" cy="679.0" r="1.45" fill="#ccc" stroke="#000" stroke-width="1.25"/>
<circle cx="324.6" cy="676.0" r="1.45" fill="#ccc" stroke="#000" stroke-width="1.25"/>
<circle cx="335.9" cy="676.0" r="1.45" fill="#ccc" stroke="#000" stroke-width="1.25"/>
<circle cx="347.2" cy="675.0" r="1.45" fill="#ccc" stroke="#000" stroke-width="1.25"/>
<circle cx="358.5" cy="674.0" r="1.45" fill="#ccc" stroke="#000" stroke-width="1.25"/>
<circle cx="369.8" cy="676.0" r="1.45" fill="#ccc" stroke="#000" stroke-width="1.25"/>
<circle cx="381.1" cy="676.0" r="1.45" fill="#ccc" stroke="#000" stroke-width="1.25"/>
<circle cx="392.4" cy="673.0" r="1.45" fill="#ccc" stroke="#000" stroke-width="1.25"/>
<circle cx="403.7" cy="674.0" r="1.45" fill="#ccc" stroke="#000" stroke-width="1.25"/>
<circle cx="415.0" cy="674.0" r="1.45" fill="#ccc" stroke="#000" stroke-width="1.25"/>
<circle cx="426.3" cy="671.0" r="1.45" fill="#ccc" stroke="#000" stroke-width="1.25"/>
<path d="M76.0 675.0 C80.0 675.5 80.0 676.5 88.0 676.5 C96.0 676.5 92.0 675.7 100.0 675.0 C108.0 674.3 105.0 675.6 112.0 674.5 C119.0 673.4 115.1 673.6 121.0 671.8 C126.9 670.0 124.5 669.6 129.6 669.2 C134.7 668.8 132.5 669.0 136.3 670.6 C140.1 672.2 136.4 672.5 141.0 674.0 C145.6 675.5 143.7 675.3 150.0 675.0 C156.3 674.7 153.3 673.5 160.0 673.0 C166.7 672.5 163.3 674.3 170.0 673.5 C176.7 672.7 175.0 672.8 180.0 670.5 C185.0 668.2 181.8 668.6 185.0 666.5 C188.2 664.4 186.5 664.7 189.5 664.2 C192.5 663.7 191.0 663.9 194.0 665.0 C197.0 666.1 195.5 667.3 198.5 667.5 C201.5 667.7 200.0 666.6 203.0 665.5 C206.0 664.4 204.5 664.1 207.5 664.3 C210.5 664.5 208.8 663.9 212.0 666.0 C215.2 668.1 212.7 668.3 217.0 670.5 C221.3 672.7 219.0 672.0 225.0 672.5 C231.0 673.0 228.2 673.2 235.0 672.0 C241.8 670.8 242.0 670.0 245.5 669.0 L247.9 640.0 L253.1 560.0 L255.4 520.0 L257.2 509.8L257.2 509.8 C258.1 508.3 258.1 507.1 259.9 505.3 C261.7 503.5 260.1 504.3 262.6 504.5 C265.1 504.7 264.6 504.3 267.3 505.8 C270.0 507.3 268.0 506.0 270.7 509.1 C273.4 512.2 272.5 511.9 275.4 515.2 C278.3 518.5 275.8 517.1 279.4 519.0 C283.0 520.9 282.5 519.6 286.1 520.8 C289.7 522.0 287.5 520.7 290.2 522.6 C292.9 524.5 291.5 523.0 294.2 526.6 C296.9 530.2 295.4 528.9 298.3 533.5 C301.2 538.1 299.6 536.0 302.8 540.5 C306.0 545.0 304.8 543.6 308.0 547.0 C311.2 550.4 309.4 549.3 312.4 550.6 C315.4 551.9 313.6 550.8 317.0 550.8 C320.4 550.8 318.2 548.8 322.5 550.5 C326.8 552.2 324.0 549.6 329.8 556.0 C335.6 562.4 333.2 561.2 339.9 569.6 C346.6 578.0 344.1 575.6 350.0 581.2 C355.9 586.8 353.2 584.2 357.5 586.3 C361.8 588.4 359.7 587.0 363.0 587.6 C366.3 588.2 364.2 585.9 367.5 588.0 C370.8 590.1 368.8 589.2 373.0 594.0 C377.2 598.8 376.0 598.7 380.0 602.3 C384.0 605.9 381.7 603.4 385.0 604.8 C388.3 606.2 386.0 604.1 390.0 606.5 C394.0 608.9 392.0 608.3 397.0 612.0 C402.0 615.7 399.0 613.7 405.0 617.5 C411.0 621.3 407.7 619.2 415.0 623.5 C422.3 627.8 423.0 628.2 427.0 630.5" fill="none" stroke="#111" stroke-width="2.3" stroke-linejoin="round" stroke-linecap="round"/>
<line x1="92.5" y1="510.9" x2="122.5" y2="510.9" stroke="#111" stroke-width="2.3"/>
<text x="126.8" y="516.2" font-size="15.9" style="font-kerning:none">ATP</text>
<line x1="92.5" y1="533" x2="122.3" y2="533" stroke="#000" stroke-width="1.1"/>
<rect x="104.4" y="530.4" width="5.2" height="5.2" fill="#fff" stroke="#000" stroke-width="1.15"/>
<text x="126.8" y="538.3" font-size="15.9" style="font-kerning:none">NECA</text>
<line x1="92.5" y1="555" x2="122.3" y2="555" stroke="#000" stroke-width="1.1"/>
<path d="M104.6 552.8 L109.4 557.2 M104.6 557.2 L109.4 552.8" stroke="#000" stroke-width="1.3"/>
<text x="126.8" y="560.3" font-size="15.9" style="font-kerning:none">CGS</text>
<line x1="92.5" y1="576.9" x2="122.3" y2="576.9" stroke="#000" stroke-width="1.1"/>
<path d="M107.0 574.3 L109.3 578.8 H104.7 Z" fill="#ccc" stroke="#000" stroke-width="1.3" stroke-linejoin="miter"/>
<text x="126.8" y="582.2" font-size="15.9" style="font-kerning:none">CPA</text>
<line x1="92.5" y1="598.9" x2="122.3" y2="598.9" stroke="#000" stroke-width="1.1"/>
<circle cx="107.0" cy="598.9" r="1.45" fill="#ccc" stroke="#000" stroke-width="1.25"/>
<text x="126.8" y="604.2" font-size="15.9" style="font-kerning:none">Adenosine</text>
<line x1="92.5" y1="621.2" x2="122.5" y2="621.2" stroke="#8a8a8a" stroke-width="2.2"/>
<path d="M104.6 621.2 H109.4 M107.0 618.8 V623.6" stroke="#000" stroke-width="1.25"/>
<text x="126.8" y="626.5" font-size="15.9" style="font-kerning:none">RANTES</text>
</svg>
</body></html>
